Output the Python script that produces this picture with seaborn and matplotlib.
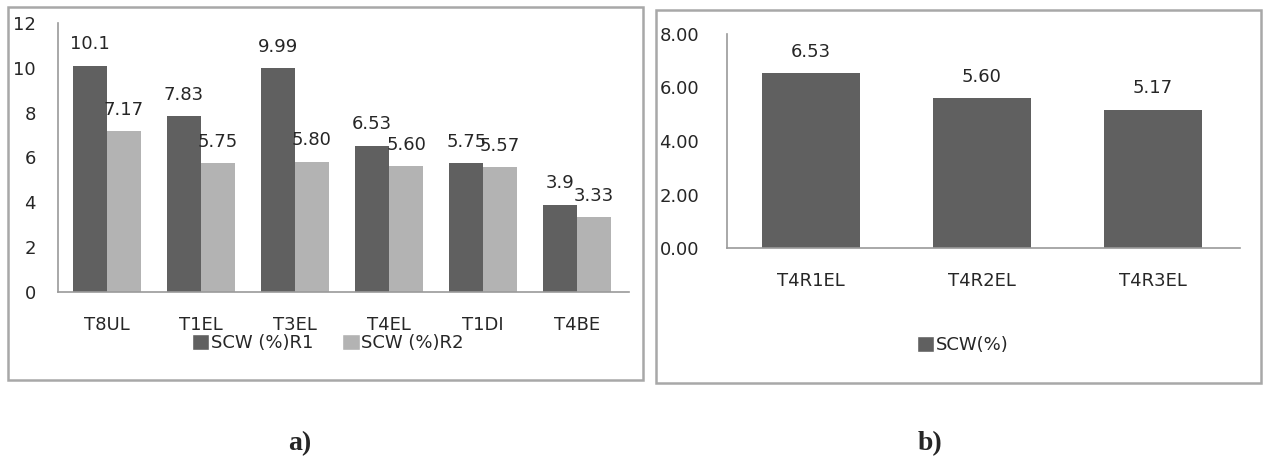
import matplotlib

matplotlib.use("Agg")
import matplotlib.pyplot as plt
import pandas as pd
import seaborn as sns
from matplotlib.patches import Patch, Rectangle

# Panel a) data
treatments_a = ["T8UL", "T1EL", "T3EL", "T4EL", "T1DI", "T4BE"]
scw_r1 = [10.1, 7.83, 9.99, 6.53, 5.75, 3.9]
scw_r2 = [7.17, 5.75, 5.80, 5.60, 5.57, 3.33]
r1_labels = ["10.1", "7.83", "9.99", "6.53", "5.75", "3.9"]
r2_labels = ["7.17", "5.75", "5.80", "5.60", "5.57", "3.33"]
series_names = ["SCW (%)R1", "SCW (%)R2"]

# Panel b) data
treatments_b = ["T4R1EL", "T4R2EL", "T4R3EL"]
scw_b = [6.53, 5.60, 5.17]

DARK = "#606060"
LIGHT = "#b3b3b3"
AXIS_GREY = "#9a9a9a"
FONT_SIZE = 13


def style_axes(ax: plt.Axes) -> None:
    for side in ["top", "right"]:
        ax.spines[side].set_visible(False)
    for side in ["left", "bottom"]:
        ax.spines[side].set_color(AXIS_GREY)
        ax.spines[side].set_linewidth(1.2)
    ax.set_xlabel("")
    ax.set_ylabel("")


def main() -> None:
    sns.set_style("white")
    plt.rcParams["font.family"] = ["DejaVu Sans"]

    fig = plt.figure(figsize=(12.63, 4.66), dpi=100)

    # ---- panel a) ----
    df_a = pd.DataFrame(
        {
            "treatment": treatments_a * 2,
            "value": scw_r1 + scw_r2,
            "series": [series_names[0]] * len(scw_r1)
            + [series_names[1]] * len(scw_r2),
        }
    )
    ax_a = fig.add_axes([58 / 1263, 1 - 292 / 466, 571 / 1263, 269 / 466])
    sns.barplot(
        data=df_a,
        x="treatment",
        y="value",
        hue="series",
        palette=[DARK, LIGHT],
        width=0.72,
        saturation=1,
        linewidth=0,
        legend=False,
        ax=ax_a,
    )
    ax_a.set_ylim(0, 12)
    ax_a.set_xlim(-0.52, 5.55)
    ax_a.set_yticks(range(0, 13, 2))
    style_axes(ax_a)
    ax_a.tick_params(axis="y", length=0, pad=16, labelsize=FONT_SIZE)
    ax_a.tick_params(axis="x", length=0, pad=17, labelsize=FONT_SIZE)
    for container, labels in zip(ax_a.containers, [r1_labels, r2_labels]):
        ax_a.bar_label(container, labels=labels, padding=9, fontsize=FONT_SIZE)

    handles_a = [Patch(facecolor=DARK), Patch(facecolor=LIGHT)]
    fig.legend(
        handles_a,
        series_names,
        loc="center",
        bbox_to_anchor=(328 / 1263, 1 - 343 / 466),
        ncol=2,
        frameon=False,
        fontsize=FONT_SIZE,
        handlelength=0.95,
        handleheight=1.0,
        handletextpad=0.1,
        columnspacing=1.6,
        borderaxespad=0,
    )

    # ---- panel b) ----
    ax_b = fig.add_axes([727 / 1263, 1 - 248 / 466, 513 / 1263, 214 / 466])
    sns.barplot(
        x=treatments_b,
        y=scw_b,
        color=DARK,
        width=0.57,
        saturation=1,
        linewidth=0,
        ax=ax_b,
    )
    ax_b.set_ylim(0, 8)
    ax_b.set_xlim(-0.491, 2.509)
    ax_b.set_yticks(range(0, 9, 2))
    ax_b.set_yticklabels([f"{v:.2f}" for v in range(0, 9, 2)])
    style_axes(ax_b)
    ax_b.tick_params(axis="y", length=0, pad=20, labelsize=FONT_SIZE)
    ax_b.tick_params(axis="x", length=0, pad=17, labelsize=FONT_SIZE)
    ax_b.bar_label(ax_b.containers[0], fmt="%.2f", padding=9, fontsize=FONT_SIZE)

    fig.legend(
        [Patch(facecolor=DARK)],
        ["SCW(%)"],
        loc="center",
        bbox_to_anchor=(963 / 1263, 1 - 345 / 466),
        frameon=False,
        fontsize=FONT_SIZE,
        handlelength=0.95,
        handleheight=1.0,
        handletextpad=0.1,
        borderaxespad=0,
    )

    # panel frames
    for x0, y0, x1, y1 in [(8, 7, 643, 380), (656, 10, 1261, 383)]:
        fig.patches.append(
            Rectangle(
                (x0 / 1263, 1 - y1 / 466),
                (x1 - x0) / 1263,
                (y1 - y0) / 466,
                transform=fig.transFigure,
                fill=False,
                edgecolor="#a8a8a8",
                linewidth=1.8,
            )
        )

    # panel captions
    for x, text in [(300, "a)"), (930, "b)")]:
        fig.text(
            x / 1263,
            1 - 444 / 466,
            text,
            ha="center",
            va="center",
            fontsize=20,
            fontweight="bold",
            family=["Liberation Serif", "DejaVu Serif"],
        )

    fig.savefig("out.png", dpi=100)


if __name__ == "__main__":
    main()
